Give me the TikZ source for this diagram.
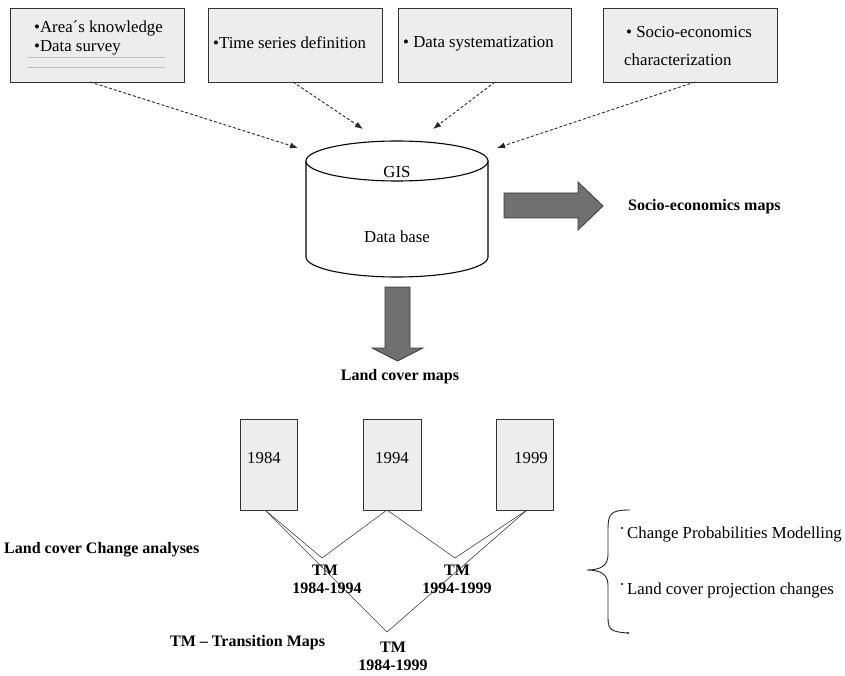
\documentclass[tikz,border=0pt]{standalone}
\usepackage{fontspec}
\setmainfont{Liberation Serif}
\usetikzlibrary{arrows.meta,decorations.pathreplacing}
\definecolor{boxfill}{HTML}{EDEDED}
\definecolor{fatfill}{HTML}{707070}
\definecolor{fatline}{HTML}{3A3A3A}
\tikzset{
  topbox/.style={draw=black!80, line width=0.9pt, fill=boxfill},
  mapbox/.style={draw=black!80, line width=0.8pt, fill=boxfill},
  txt/.style={font=\fontsize{16.8}{19}\selectfont, inner sep=0pt},
  btxt/.style={font=\fontsize{16}{19}\selectfont\bfseries, inner sep=0pt},
  dasharrow/.style={draw=black!85, line width=0.9pt, dash pattern=on 3pt off 2pt, -{Latex[length=8pt,width=6pt]}},
  fatarrow/.style={draw=fatline, line width=0.8pt, fill=fatfill},
  thinline/.style={draw=black!75, line width=0.6pt},
  cyl/.style={draw=black, line width=1.1pt, fill=white}
}
\begin{document}
\begin{tikzpicture}[x=1pt,y=-1pt]
\useasboundingbox (0,0) rectangle (845,676);
\fill[white] (0,0) rectangle (845,676);

% top boxes
\draw[topbox] (10,8) rectangle (184,82);
\draw[topbox] (208,8) rectangle (382,82);
\draw[topbox] (398,8) rectangle (571,82);
\draw[topbox] (603,8) rectangle (777,82);
\draw[black!25, line width=0.6pt] (28,57) -- (165,57) (28,67) -- (165,67);

\node[txt, anchor=west] (b1a) at (34,28) {•Area´s knowledge};
\node[txt, anchor=west] (b1b) at (34,48) {•Data survey};
\node[txt, anchor=west] (b2) at (213,43) {•Time series definition};
\node[txt, anchor=west] (b3) at (403,44) {• Data systematization};
\node[txt, anchor=west] (b4a) at (626,32) {• Socio-economics};
\node[txt, anchor=west] (b4b) at (624,60) {characterization};

\coordinate (s1) at (90,82);
\coordinate (s2) at (293,82);
\coordinate (s3) at (495,82);
\coordinate (s4) at (695,82);
\coordinate (t1) at (298,148);
\coordinate (t2) at (363,129);
\coordinate (t3) at (433,129);
\coordinate (t4) at (497,148);
\draw[dasharrow] (s1) -- (t1);
\draw[dasharrow] (s2) -- (t2);
\draw[dasharrow] (s3) -- (t3);
\draw[dasharrow] (s4) -- (t4);

% cylinder
\draw[cyl] (306,161) -- (306,257) arc[start angle=180, end angle=360, x radius=91, y radius=-20] -- (488,161);
\draw[cyl] (397,161) ellipse[x radius=91, y radius=20];
\node[txt] (gis) at (397,172) {GIS};
\node[txt] (db) at (397,237) {Data base};

% fat arrows
\draw[fatarrow] (504,193) -- (578,193) -- (578,182) -- (603,206) -- (578,230) -- (578,218) -- (504,218) -- cycle;
\draw[fatarrow] (385,287) -- (410,287) -- (410,348) -- (423,348) -- (397.5,361) -- (372,348) -- (385,348) -- cycle;
\node[btxt, anchor=west] (sem) at (628,207) {Socio-economics maps};
\node[btxt] (lcm) at (400,377) {Land cover maps};

% map boxes
\draw[mapbox] (240,419) rectangle (297,510);
\draw[mapbox] (363,419) rectangle (421,510);
\draw[mapbox] (496,419) rectangle (553,510);
\node[txt] (y84) at (264,458) {1984};
\node[txt] (y94) at (392,458) {1994};
\node[txt] (y99) at (531,458) {1999};

\coordinate (m1) at (265,510);
\coordinate (m2) at (387,510);
\coordinate (m3) at (527,510);
\coordinate (a1) at (322,558);
\coordinate (a2) at (455,558);
\coordinate (a3) at (387,632);
\draw[thinline] (m1) -- (a1);
\draw[thinline] (m1) -- (a3);
\draw[thinline] (m2) -- (a1);
\draw[thinline] (m2) -- (a2);
\draw[thinline] (m3) -- (a2);
\draw[thinline] (m3) -- (a3);

\node[btxt] (tm1) at (325,570) {TM};
\node[btxt] (tm1y) at (327,588) {1984-1994};
\node[btxt] (tm2) at (457,570) {TM};
\node[btxt] (tm2y) at (457,588) {1994-1999};
\node[btxt] (tm3) at (393,647) {TM};
\node[btxt] (tm3y) at (393,665) {1984-1999};

\node[btxt, anchor=west] (lcca) at (4,550) {Land cover Change analyses};
\node[btxt, anchor=west] (tmtm) at (170,643) {TM – Transition Maps};

% brace
\draw[black!85, line width=0.9pt] (630,510) .. controls (610,510) and (608,514) .. (608,530) -- (608,555) .. controls (608,566) and (600,570) .. (587,570) .. controls (600,570) and (608,574) .. (608,585) -- (608,618) .. controls (608,630) and (612,632) .. (628,633);
\fill[black] (622,528) circle[radius=1.2];
\fill[black] (622,584) circle[radius=1.2];
\fill[black] (628,633) circle[radius=1];
\node[txt, anchor=west] (cpm) at (627,534) {Change Probabilities Modelling};
\node[txt, anchor=west] (lcp) at (627,590) {Land cover projection changes};
\end{tikzpicture}
\end{document}
